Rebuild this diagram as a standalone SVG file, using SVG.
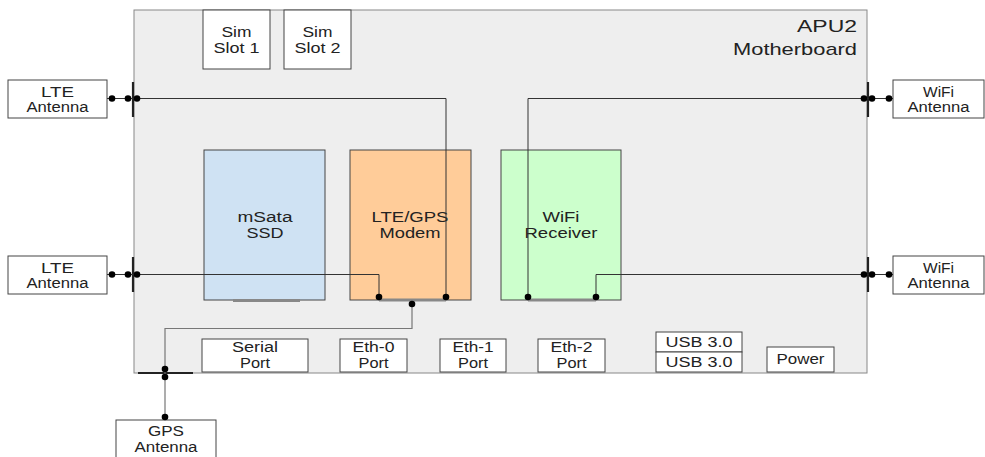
<svg xmlns="http://www.w3.org/2000/svg" width="985" height="457" viewBox="0 0 985 457">
<style>
text{font-family:"Liberation Sans",Arial,sans-serif;font-size:14px;fill:#222;text-anchor:middle}
.big{font-size:15.5px}
.mb{font-size:17px;text-anchor:end}
.box{fill:#fff;stroke:#444;stroke-width:1}
.wire{fill:none;stroke:#333;stroke-width:1}
.gwire{fill:none;stroke:#777;stroke-width:1.2}
.bar{stroke:#222;stroke-width:2.2}
.slot{stroke:#888;stroke-width:3}
.dot{fill:#000}
</style>
<rect width="985" height="457" fill="#fff"/>
<g id="motherboard">
<rect x="134" y="10" width="733" height="363" fill="#eeeeee" stroke="#888" stroke-width="1"/>
<text x="857" y="32" class="mb" textLength="60" lengthAdjust="spacingAndGlyphs">APU2</text>
<text x="857" y="55" class="mb" textLength="124" lengthAdjust="spacingAndGlyphs">Motherboard</text>
</g>
<g id="sim1"><rect class="box" x="203" y="10" width="67" height="59"/><text x="236.5" y="37" textLength="30" lengthAdjust="spacingAndGlyphs">Sim</text><text x="236.5" y="53" textLength="46" lengthAdjust="spacingAndGlyphs">Slot 1</text></g>
<g id="sim2"><rect class="box" x="284" y="10" width="67" height="59"/><text x="317.5" y="37" textLength="30" lengthAdjust="spacingAndGlyphs">Sim</text><text x="317.5" y="53" textLength="46" lengthAdjust="spacingAndGlyphs">Slot 2</text></g>
<g id="msata"><rect x="204" y="150" width="121" height="150" fill="#cfe2f3" stroke="#444"/><text class="big" x="265" y="222" textLength="55" lengthAdjust="spacingAndGlyphs">mSata</text><text class="big" x="265" y="238" textLength="37" lengthAdjust="spacingAndGlyphs">SSD</text></g>
<g id="modem"><rect x="350" y="150" width="121" height="150" fill="#ffcc99" stroke="#444"/><text class="big" x="410" y="222" textLength="77" lengthAdjust="spacingAndGlyphs">LTE/GPS</text><text class="big" x="410" y="238" textLength="61" lengthAdjust="spacingAndGlyphs">Modem</text></g>
<g id="wifi"><rect x="501" y="150" width="120" height="150" fill="#ccffcc" stroke="#444"/><text class="big" x="561" y="222" textLength="37" lengthAdjust="spacingAndGlyphs">WiFi</text><text class="big" x="561" y="238" textLength="73" lengthAdjust="spacingAndGlyphs">Receiver</text></g>
<g id="lte1"><rect class="box" x="8" y="80" width="99" height="38"/><text x="57.5" y="97" textLength="33" lengthAdjust="spacingAndGlyphs">LTE</text><text x="57.5" y="112" textLength="62" lengthAdjust="spacingAndGlyphs">Antenna</text></g>
<g id="lte2"><rect class="box" x="8" y="256" width="99" height="38"/><text x="57.5" y="273" textLength="33" lengthAdjust="spacingAndGlyphs">LTE</text><text x="57.5" y="288" textLength="62" lengthAdjust="spacingAndGlyphs">Antenna</text></g>
<g id="wifiant1"><rect class="box" x="893" y="80" width="91" height="38"/><text x="938.5" y="97" textLength="31" lengthAdjust="spacingAndGlyphs">WiFi</text><text x="938.5" y="112" textLength="62" lengthAdjust="spacingAndGlyphs">Antenna</text></g>
<g id="wifiant2"><rect class="box" x="893" y="256" width="91" height="38"/><text x="938.5" y="273" textLength="31" lengthAdjust="spacingAndGlyphs">WiFi</text><text x="938.5" y="288" textLength="62" lengthAdjust="spacingAndGlyphs">Antenna</text></g>
<g id="gps"><rect class="box" x="116" y="420" width="100" height="40"/><text x="166" y="436" textLength="36" lengthAdjust="spacingAndGlyphs">GPS</text><text x="166" y="452" textLength="63" lengthAdjust="spacingAndGlyphs">Antenna</text></g>
<g id="serial"><rect class="box" x="202" y="339" width="106" height="33"/><text x="255" y="352" textLength="46" lengthAdjust="spacingAndGlyphs">Serial</text><text x="255" y="368" textLength="30" lengthAdjust="spacingAndGlyphs">Port</text></g>
<g id="eth0"><rect class="box" x="340" y="339" width="67" height="33"/><text x="373.5" y="352" textLength="42" lengthAdjust="spacingAndGlyphs">Eth-0</text><text x="373.5" y="368" textLength="30" lengthAdjust="spacingAndGlyphs">Port</text></g>
<g id="eth1"><rect class="box" x="440" y="339" width="66" height="33"/><text x="473" y="352" textLength="41" lengthAdjust="spacingAndGlyphs">Eth-1</text><text x="473" y="368" textLength="30" lengthAdjust="spacingAndGlyphs">Port</text></g>
<g id="eth2"><rect class="box" x="538" y="339" width="67" height="33"/><text x="571.5" y="352" textLength="42" lengthAdjust="spacingAndGlyphs">Eth-2</text><text x="571.5" y="368" textLength="30" lengthAdjust="spacingAndGlyphs">Port</text></g>
<g id="usb1"><rect class="box" x="656" y="332" width="86" height="20"/><text x="699" y="347" textLength="67" lengthAdjust="spacingAndGlyphs">USB 3.0</text></g>
<g id="usb2"><rect class="box" x="656" y="352" width="86" height="20"/><text x="699" y="367" textLength="67" lengthAdjust="spacingAndGlyphs">USB 3.0</text></g>
<g id="power"><rect class="box" x="767" y="347" width="67" height="25"/><text x="800.5" y="364" textLength="48" lengthAdjust="spacingAndGlyphs">Power</text></g>
<g id="connectors">
<line class="slot" x1="233" y1="300.5" x2="300" y2="300.5"/>
<line class="slot" x1="379" y1="300" x2="446" y2="300"/>
<line class="slot" x1="528" y1="300" x2="596" y2="300"/>
<line class="bar" x1="133" y1="82" x2="133" y2="117"/>
<line class="bar" x1="133" y1="257" x2="133" y2="292"/>
<line class="bar" x1="868" y1="82" x2="868" y2="117"/>
<line class="bar" x1="868" y1="257" x2="868" y2="292"/>
<line class="bar" x1="138" y1="373" x2="193" y2="373"/>
<polyline class="wire" points="107,98.5 446,98.5 446,297"/>
<polyline class="wire" points="107,274.5 379,274.5 379,297"/>
<polyline class="wire" points="528,297 528,98.5 893,98.5"/>
<polyline class="wire" points="596,297 596,274.5 893,274.5"/>
<polyline class="gwire" points="412,304 412,328.5 165,328.5 165,417"/>
<g class="dot">
<circle cx="112" cy="98.5" r="3.3"/><circle cx="128" cy="98.5" r="3.3"/><circle cx="137" cy="98.5" r="3.3"/>
<circle cx="112" cy="274.5" r="3.3"/><circle cx="128" cy="274.5" r="3.3"/><circle cx="137" cy="274.5" r="3.3"/>
<circle cx="864" cy="98.5" r="3.3"/><circle cx="872" cy="98.5" r="3.3"/><circle cx="889" cy="98.5" r="3.3"/>
<circle cx="864" cy="274.5" r="3.3"/><circle cx="872" cy="274.5" r="3.3"/><circle cx="889" cy="274.5" r="3.3"/>
<circle cx="379" cy="297" r="3.3"/><circle cx="446" cy="297" r="3.3"/><circle cx="412" cy="304" r="3.3"/>
<circle cx="528" cy="297" r="3.3"/><circle cx="596" cy="297" r="3.3"/>
<circle cx="165" cy="369" r="3.3"/><circle cx="165" cy="377" r="3.3"/><circle cx="165" cy="417" r="3.3"/>
</g>
</g>
</svg>
